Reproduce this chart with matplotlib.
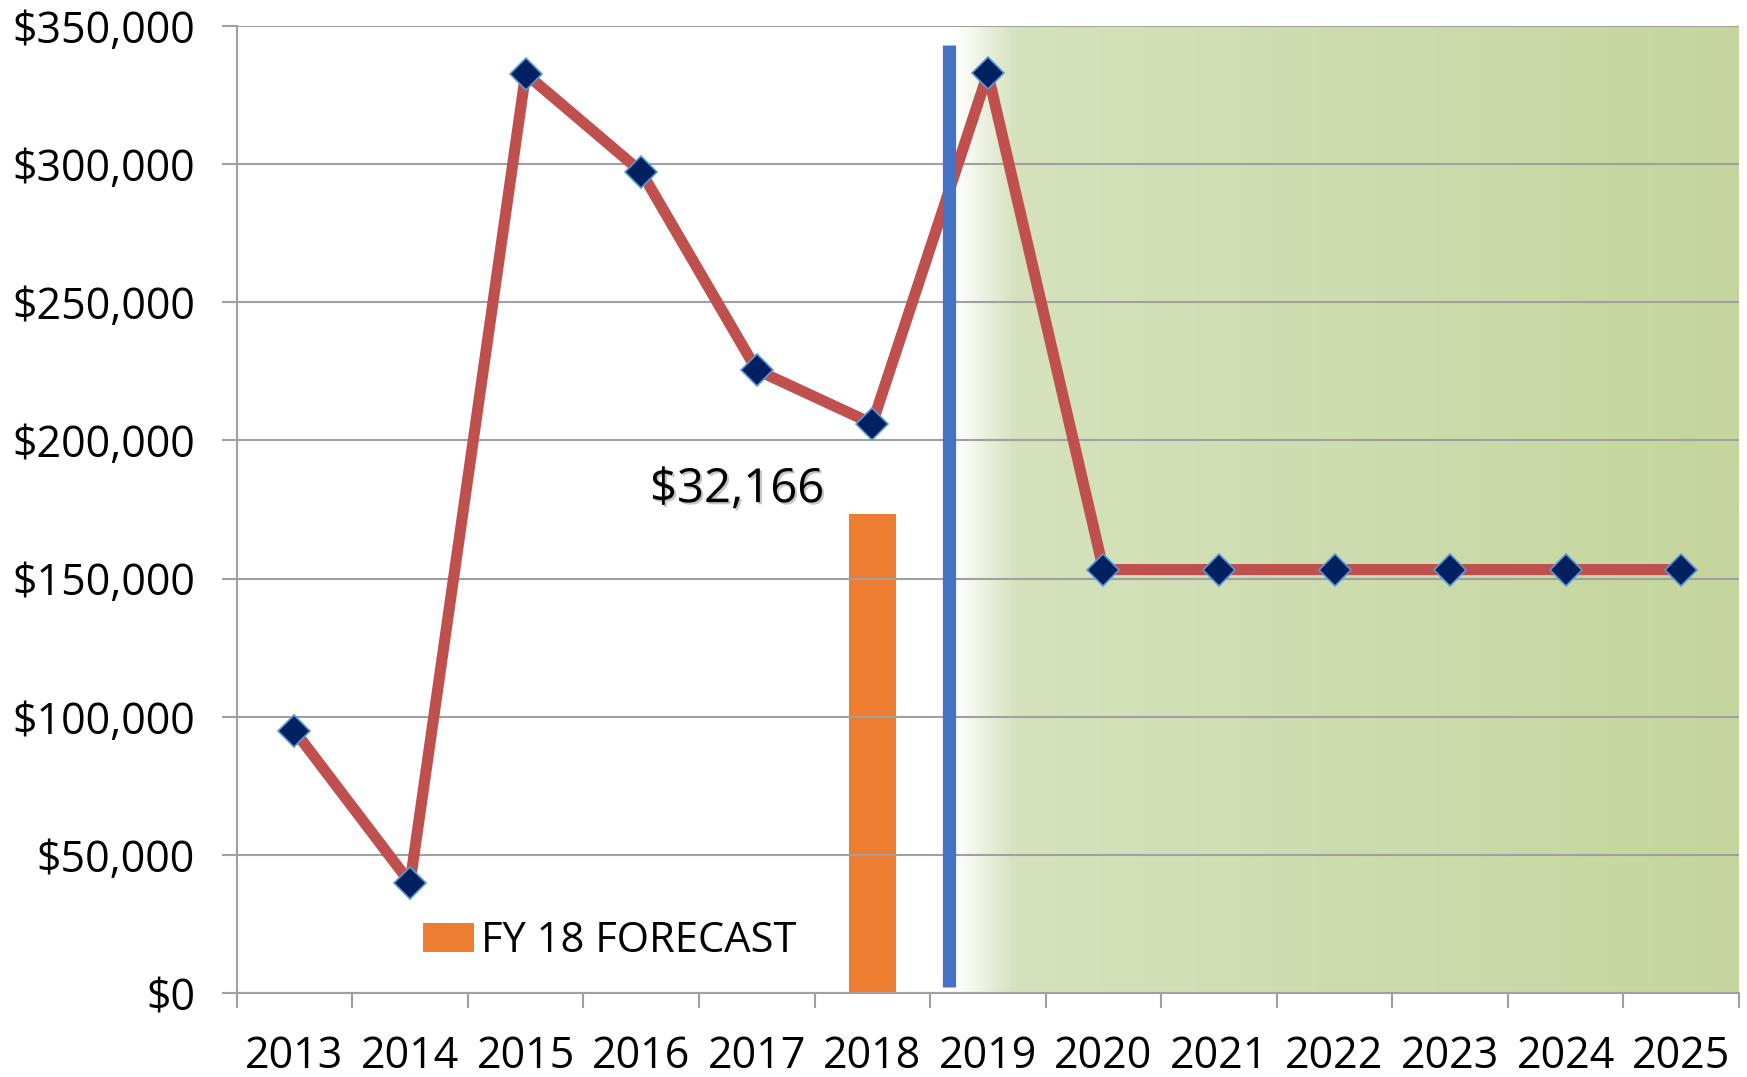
import numpy as np
import matplotlib
matplotlib.use("Agg")
import matplotlib.pyplot as plt
from matplotlib import patheffects as pe
from matplotlib.patches import Patch
from matplotlib.colors import LinearSegmentedColormap

# ---- data ----
years = ["2013", "2014", "2015", "2016", "2017", "2018", "2019",
         "2020", "2021", "2022", "2023", "2024", "2025"]
values = [95000, 40000, 332700, 297200, 225500, 206100, 332800,
          153300, 153300, 153300, 153300, 153300, 153300]
forecast_year = "2018"
forecast_value = 173500
forecast_label = "$32,166"
legend_label = "FY 18 FORECAST"
yticks = [0, 50000, 100000, 150000, 200000, 250000, 300000, 350000]
ytick_labels = ["$0", "$50,000", "$100,000", "$150,000", "$200,000",
                "$250,000", "$300,000", "$350,000"]

plt.rcParams['font.family'] = ['Open Sans', 'DejaVu Sans']

fig = plt.figure(figsize=(17.47, 10.77), dpi=100)
ax = fig.add_axes([0.1355, 0.0777, 0.8599, 0.8983])

n = len(years)
x = np.arange(n)
ax.set_xlim(-0.5, n - 0.5)
ax.set_ylim(0, 350000)

# gradient shaded forecast region
div_x = 5.66
grad_start = 5.72
cmap = LinearSegmentedColormap.from_list(
    "g", [(0.0, "#ffffff"), (0.075, "#d5e2bd"), (1.0, "#c4d69d")])
grad = np.linspace(0, 1, 512).reshape(1, -1)
ax.imshow(grad, cmap=cmap, aspect="auto",
          extent=[grad_start, n - 0.5, 0, 350000], zorder=0)

# gridlines
ax.set_yticks(yticks)
ax.set_yticklabels(ytick_labels)
ax.yaxis.grid(True, color="#a0a0a0", linewidth=1.5, zorder=1)
ax.set_axisbelow(False)
for gl in ax.get_ygridlines():
    gl.set_zorder(1)

# forecast bar
bi = years.index(forecast_year)
ax.bar(bi, forecast_value, width=0.41, color="#ed7d31", zorder=2)

# main line
ax.plot(x, values, color="#c0504d", linewidth=8, zorder=3,
        solid_capstyle="butt")
# divider
ax.plot([div_x, div_x], [2300, 343200], color="#4472c4", linewidth=9.5,
        zorder=4, solid_capstyle="butt")
# markers
ax.plot(x, values, linestyle="none", marker="D", markersize=16.5,
        markerfacecolor="#002060", markeredgecolor="#5b9bd5",
        markeredgewidth=1.2, zorder=5)

# label
ax.text(3.83, 182300, forecast_label, fontsize=34, ha="center", va="center",
        color="black", zorder=6,
        path_effects=[pe.withSimplePatchShadow(offset=(1.5, -1.5),
                                               shadow_rgbFace="#808080",
                                               alpha=0.45)])

# axes styling
for s in ["top", "right"]:
    ax.spines[s].set_visible(False)
for s in ["left", "bottom"]:
    ax.spines[s].set_color("#a0a0a0")
    ax.spines[s].set_linewidth(1.5)

ax.set_xticks(np.arange(-0.5, n, 1.0))
ax.set_xticklabels([])
ax.set_xticks(x, minor=True)
ax.set_xticklabels(years, minor=True)
ax.tick_params(axis="x", which="major", length=11, width=1.5,
               color="#a0a0a0", direction="out")
ax.tick_params(axis="x", which="minor", length=0, pad=30, labelsize=31)
ax.tick_params(axis="y", length=11, width=1.5, color="#a0a0a0",
               pad=19, labelsize=31)

# legend
leg = ax.legend(handles=[Patch(facecolor="#ed7d31", label=legend_label)],
                loc="center left", bbox_to_anchor=(423 / 1747, 1 - 941 / 1077),
                bbox_transform=fig.transFigure, frameon=False, fontsize=30,
                handlelength=1.23, handleheight=0.67, handletextpad=0.17,
                borderpad=0, borderaxespad=0)
leg.set_zorder(7)

fig.savefig("out.png", dpi=100)
